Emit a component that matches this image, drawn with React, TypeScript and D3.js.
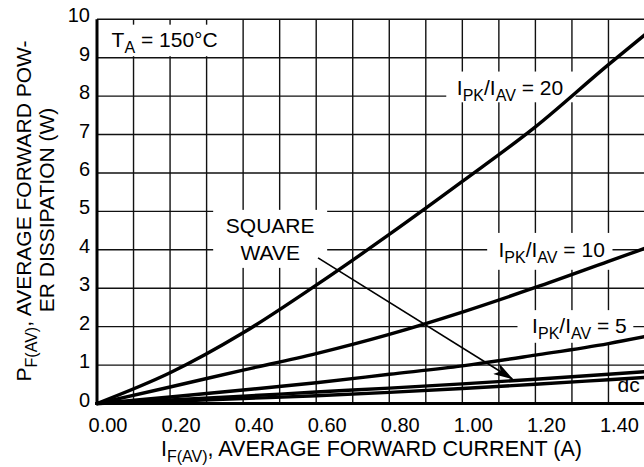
import React, { useRef, useEffect } from "react";
import * as d3 from "d3";

// Average forward current (A) where the curves were read
const currentA = [0, 0.2, 0.4, 0.6, 0.8, 1.0, 1.2, 1.4, 1.5];

// Average forward power dissipation (W), one list per waveform
const ratio20 = [0, 0.8, 1.84, 3.08, 4.4, 5.78, 7.2, 8.82, 9.6];
const ratio10 = [0, 0.43, 0.87, 1.3, 1.8, 2.38, 3.02, 3.7, 4.04];
const ratio5 = [0, 0.17, 0.35, 0.54, 0.76, 0.98, 1.26, 1.56, 1.74];
const squareWave = [0, 0.09, 0.19, 0.3, 0.4, 0.51, 0.63, 0.76, 0.83];
const dcCurve = [0, 0.06, 0.13, 0.2, 0.29, 0.39, 0.5, 0.62, 0.68];

const xTickValues = [0, 0.2, 0.4, 0.6, 0.8, 1.0, 1.2, 1.4];
const yTickValues = [0, 1, 2, 3, 4, 5, 6, 7, 8, 9, 10];

const FONT = "'Liberation Sans', Arial, Helvetica, sans-serif";

const App = () => {
  const svgRef = useRef(null);

  useEffect(() => {
    const width = 644;
    const height = 467;
    const svg = d3.select(svgRef.current);
    svg.selectAll("*").remove();

    const x = d3.scaleLinear().domain([0, 1.5]).range([97, 645]);
    const y = d3.scaleLinear().domain([0, 10]).range([403.5, 19.3]);

    const g = svg.append("g").style("font-family", FONT).style("fill", "#000");

    // grid
    const vGrid = d3.range(1, 16).map((i) => i / 10);
    g.selectAll(".vgrid")
      .data(vGrid)
      .enter()
      .append("line")
      .attr("x1", (d) => x(d))
      .attr("x2", (d) => x(d))
      .attr("y1", y(0))
      .attr("y2", y(10))
      .attr("stroke", "#111")
      .attr("stroke-width", 1.4);
    g.selectAll(".hgrid")
      .data(yTickValues.slice(1))
      .enter()
      .append("line")
      .attr("x1", x(0))
      .attr("x2", width)
      .attr("y1", (d) => y(d))
      .attr("y2", (d) => y(d))
      .attr("stroke", "#111")
      .attr("stroke-width", 1.4);

    // white boxes behind the labels (data units)
    const boxes = [
      [0.004, 9.86, 0.373, 9.04],
      [0.956, 8.64, 1.31, 7.84],
      [0.318, 5.04, 0.63, 3.53],
      [1.068, 4.44, 1.411, 3.48],
      [1.151, 2.43, 1.468, 1.58],
      [1.422, 0.58, 1.49, 0.05],
    ];
    g.selectAll(".box")
      .data(boxes)
      .enter()
      .append("rect")
      .attr("x", (d) => x(d[0]))
      .attr("y", (d) => y(d[1]))
      .attr("width", (d) => x(d[2]) - x(d[0]))
      .attr("height", (d) => y(d[3]) - y(d[1]))
      .attr("fill", "white");

    // axes lines
    g.append("line")
      .attr("x1", x(0)).attr("x2", x(0))
      .attr("y1", y(0) + 1.5).attr("y2", y(10))
      .attr("stroke", "#000").attr("stroke-width", 3);
    g.append("line")
      .attr("x1", x(0) - 1.5).attr("x2", width)
      .attr("y1", y(0)).attr("y2", y(0))
      .attr("stroke", "#000").attr("stroke-width", 3);

    // curves
    const series = [ratio20, ratio10, ratio5, squareWave, dcCurve];
    const line = d3
      .line<number>()
      .x((d, i) => x(currentA[i]))
      .y((d) => y(d))
      .curve(d3.curveMonotoneX);
    g.selectAll(".curve")
      .data(series)
      .enter()
      .append("path")
      .attr("d", (d) => line(d))
      .attr("fill", "none")
      .attr("stroke", "#000")
      .attr("stroke-width", 3.4)
      .attr("stroke-linecap", "round");

    // tick labels
    g.selectAll(".xlab")
      .data(xTickValues)
      .enter()
      .append("text")
      .attr("x", (d) => x(d) + 11)
      .attr("y", 432)
      .attr("text-anchor", "middle")
      .style("font-size", "20px")
      .text((d) => d3.format(".2f")(d));
    g.selectAll(".ylab")
      .data(yTickValues)
      .enter()
      .append("text")
      .attr("x", 90)
      .attr("y", (d) => y(d) + 3)
      .attr("text-anchor", "end")
      .style("font-size", "20px")
      .text((d) => d);

    // text made of normal and subscript pieces
    const subText = (sel, parts, subSize) => {
      let shift = 0;
      parts.forEach(([t, sub]) => {
        const target = sub ? 6 : 0;
        sel.append("tspan")
          .attr("dy", target - shift)
          .style("font-size", sub ? subSize : null)
          .text(t);
        shift = target;
      });
    };

    const ann = [
      { x: 0.04, y: 9.29, parts: [["T"], ["A", true], [" = 150°C"]] },
      { x: 0.985, y: 8.03, parts: [["I"], ["PK", true], ["/I"], ["AV", true], [" = 20"]] },
      { x: 1.099, y: 3.82, parts: [["I"], ["PK", true], ["/I"], ["AV", true], [" = 10"]] },
      { x: 1.191, y: 1.84, parts: [["I"], ["PK", true], ["/I"], ["AV", true], [" = 5"]] },
      { x: 1.425, y: 0.3, parts: [["dc"]] },
    ];
    ann.forEach((a) => {
      const t = g.append("text")
        .attr("x", x(a.x))
        .attr("y", y(a.y))
        .style("font-size", "21px");
      subText(t, a.parts, "16px");
    });

    g.append("text")
      .attr("x", x(0.474)).attr("y", y(4.44))
      .attr("text-anchor", "middle").style("font-size", "21px")
      .text("SQUARE");
    g.append("text")
      .attr("x", x(0.474)).attr("y", y(3.74))
      .attr("text-anchor", "middle").style("font-size", "21px")
      .text("WAVE");

    // arrow
    svg.append("defs")
      .append("marker")
      .attr("id", "arrowhead")
      .attr("viewBox", "0 0 20 12")
      .attr("refX", 19)
      .attr("refY", 6)
      .attr("markerWidth", 20)
      .attr("markerHeight", 12)
      .attr("markerUnits", "userSpaceOnUse")
      .attr("orient", "auto")
      .append("path")
      .attr("d", "M0,0 L20,6 L0,12 L5,6 Z")
      .attr("fill", "#000");
    g.append("line")
      .attr("x1", x(0.605)).attr("y1", y(3.79))
      .attr("x2", x(1.137)).attr("y2", y(0.64))
      .attr("stroke", "#000")
      .attr("stroke-width", 1.7)
      .attr("marker-end", "url(#arrowhead)");

    // axis titles
    const xt = g.append("text")
      .attr("x", 161).attr("y", 456)
      .style("font-size", "21.5px");
    subText(xt, [["I"], ["F(AV)", true], [", AVERAGE FORWARD CURRENT (A)"]], "16px");

    const yt1 = g.append("text")
      .attr("transform", "translate(31,211) rotate(-90)")
      .attr("text-anchor", "middle")
      .style("font-size", "21px");
    subText(yt1, [["P"], ["F(AV)", true], [", AVERAGE FORWARD POW-"]], "16px");
    g.append("text")
      .attr("transform", "translate(54,210) rotate(-90)")
      .attr("text-anchor", "middle")
      .style("font-size", "21px")
      .text("ER DISSIPATION (W)");

    svg.attr("width", width).attr("height", height);
  }, []);

  return (
    <svg
      ref={svgRef}
      width={644}
      height={467}
      style={{ position: "absolute", left: 0, top: 0, background: "white" }}
    />
  );
};

export default App;
